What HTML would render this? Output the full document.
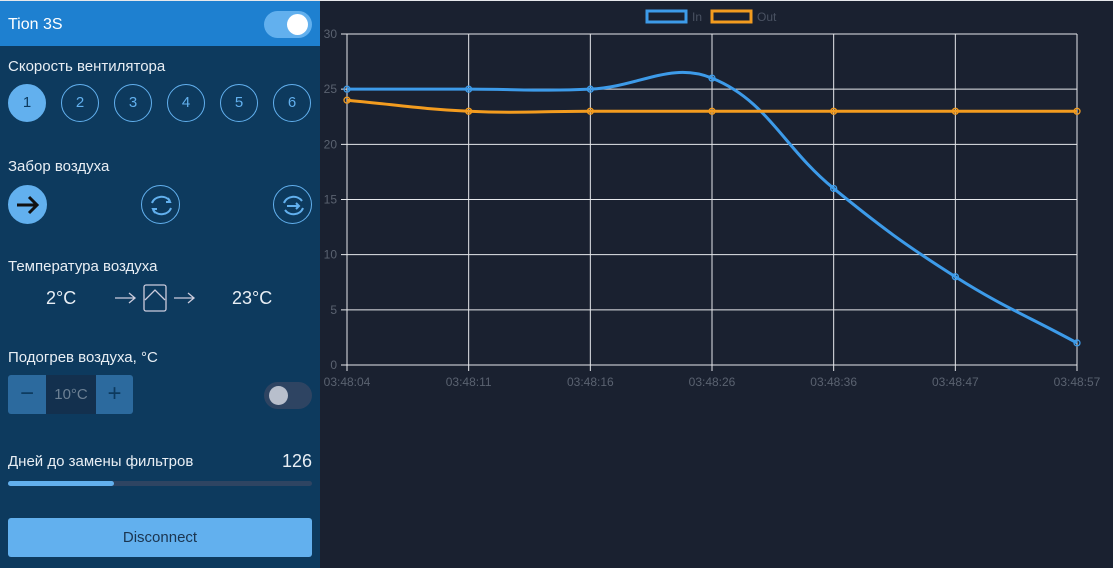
<!DOCTYPE html>
<html><head><meta charset="utf-8"><style>
*{box-sizing:border-box;margin:0;padding:0}
body{width:1113px;height:568px;overflow:hidden;background:#1a2130;font-family:"Liberation Sans","DejaVu Sans",sans-serif;position:relative}
#topline{position:absolute;left:0;top:0;width:1113px;height:1px;background:#e6e8eb}
#panel{position:absolute;left:0;top:1px;width:320px;height:567px;background:#0d3a5e;color:#e8eef4}
.hdr{height:45px;background:#1e80d0;position:relative}
.hdr span{position:absolute;left:8px;top:15px;font-size:16px;color:#fff}
.tog{position:absolute;border-radius:14px}
.lbl{position:absolute;left:8px;font-size:15px;color:#e8eef4}
.sp{position:absolute;top:83px;width:38px;height:38px;border:1px solid #62b0ee;border-radius:50%;color:#62b0ee;font-size:15px;text-align:center;line-height:36px}
.mode{position:absolute;top:184px;width:39px;height:39px;border:1px solid #62b0ee;border-radius:50%}
svg text{font-family:"Liberation Sans",sans-serif}
</style></head><body>
<div id="topline"></div>
<div id="panel">
 <div class="hdr"><span>Tion 3S</span>
  <div class="tog" style="left:264px;top:10px;width:48px;height:27px;background:#62b0ee"><div style="position:absolute;right:4px;top:3px;width:21px;height:21px;border-radius:50%;background:#fff"></div></div>
 </div>
 <div class="lbl" style="top:57px">Скорость вентилятора</div>
 <div class="sp" style="left:8px;background:#62b0ee;color:#0d3a5e">1</div>
 <div class="sp" style="left:61px">2</div>
 <div class="sp" style="left:114px">3</div>
 <div class="sp" style="left:167px">4</div>
 <div class="sp" style="left:220px">5</div>
 <div class="sp" style="left:273px">6</div>
 <div class="lbl" style="top:157px">Забор воздуха</div>
 <div class="mode" style="left:8px;background:#62b0ee;border-color:#62b0ee"><svg width="39" height="39"><path d="M8 19h20M20 11l8 8-8 8" stroke="#111" stroke-width="3" fill="none"/></svg></div>
 <div class="mode" style="left:141px"><svg width="39" height="39"><path d="M10 17a10 9 0 0 1 18-2M29 22a10 9 0 0 1-18 2" stroke="#62b0ee" stroke-width="2" fill="none"/><path d="M26 12l2 4-4 0M13 27l-2-4 4 0" stroke="#62b0ee" stroke-width="2" fill="none"/></svg></div>
 <div class="mode" style="left:273px"><svg width="39" height="39"><path d="M10 17a10 9 0 0 1 18-2M29 22a10 9 0 0 1-18 2M13 20h12M22 17l3 3-3 3" stroke="#62b0ee" stroke-width="2" fill="none"/></svg></div>
 <div class="lbl" style="top:257px">Температура воздуха</div>
 <div style="position:absolute;left:46px;top:287px;font-size:18px">2°C</div>
 <svg style="position:absolute;left:112px;top:281px" width="90" height="30"><path d="M3 16h20M17 11l6 5-6 5M62 16h20M76 11l6 5-6 5" stroke="#ccd" stroke-width="1.3" fill="none"/><rect x="32" y="3" width="22" height="26" rx="2" stroke="#ccd" fill="none" stroke-width="1.3"/><path d="M33 18l10-10 10 10" stroke="#ccd" fill="none" stroke-width="1.3"/></svg>
 <div style="position:absolute;left:232px;top:287px;font-size:18px">23°C</div>
 <div class="lbl" style="top:348px">Подогрев воздуха, °C</div>
 <div style="position:absolute;left:8px;top:374px;width:125px;height:39px;background:#2c6a9e;border-radius:3px">
  <div style="position:absolute;left:0;top:0;width:38px;height:39px;text-align:center;font-size:24px;line-height:37px;color:#0d3a5e">−</div>
  <div style="position:absolute;left:38px;top:0;width:50px;height:39px;background:#13304e;color:#6c8094;text-align:center;line-height:39px;font-size:15px">10°C</div>
  <div style="position:absolute;left:88px;top:0;width:37px;height:39px;text-align:center;font-size:24px;line-height:37px;color:#0d3a5e">+</div>
 </div>
 <div class="tog" style="left:264px;top:381px;width:48px;height:27px;background:#2e4462"><div style="position:absolute;left:5px;top:4px;width:19px;height:19px;border-radius:50%;background:#b8bfcc"></div></div>
 <div class="lbl" style="top:452px">Дней до замены фильтров</div>
 <div style="position:absolute;right:8px;top:450px;font-size:18px">126</div>
 <div style="position:absolute;left:8px;top:480px;width:304px;height:5px;background:#2e4462;border-radius:3px"><div style="width:106px;height:5px;background:#62b0ee;border-radius:3px"></div></div>
 <div style="position:absolute;left:8px;top:517px;width:304px;height:39px;background:#62b0ee;border-radius:3px;text-align:center;line-height:39px;font-size:15px;color:#1b3550">Disconnect</div>
</div>
<svg id="chart" style="position:absolute;left:0;top:0" width="1113" height="568"></svg>
<script>
const labels=["03:48:04","03:48:11","03:48:16","03:48:26","03:48:36","03:48:47","03:48:57"];
const inVals=[25,25,25,26,16,8,2];
const outVals=[24,23,23,23,23,23,23];
const yTicks=[0,5,10,15,20,25,30];
const X0=347,X1=1077,Y0=365,Y1=34,YMAX=30;
const xs=i=>X0+(X1-X0)*i/(labels.length-1);
const ys=v=>Y0-(Y0-Y1)*v/YMAX;
const svg=document.getElementById('chart');const NS='http://www.w3.org/2000/svg';
function mk(t,a,p){const e=document.createElementNS(NS,t);for(const k in a)e.setAttribute(k,a[k]);(p||svg).appendChild(e);return e;}
yTicks.forEach(v=>{const l=mk('line',{x1:X0-6,x2:X1,y1:ys(v),y2:ys(v),stroke:'#e6e8eb','stroke-width':1});


const t=mk('text',{x:X0-10,y:ys(v)+4,'text-anchor':'end','font-size':12,fill:'#5a6270'});t.textContent=v;

});
labels.forEach((s,i)=>{const l=mk('line',{x1:xs(i),x2:xs(i),y1:Y1,y2:Y0+6,stroke:'#e6e8eb','stroke-width':1});


const t=mk('text',{x:xs(i),y:386,'text-anchor':'middle','font-size':12,fill:'#5a6270'});t.textContent=s;

});
function path(vals){const p=vals.map((v,i)=>({x:xs(i),y:ys(v)}));const T=0.4;const cps=p.map((c,i)=>{const a=p[Math.max(i-1,0)],b=p[Math.min(i+1,p.length-1)];const d01=Math.hypot(c.x-a.x,c.y-a.y),d12=Math.hypot(b.x-c.x,b.y-c.y);let s01=d01/(d01+d12)||0,s12=d12/(d01+d12)||0;const fa=T*s01,fb=T*s12;return{p:{x:c.x-fa*(b.x-a.x),y:c.y-fa*(b.y-a.y)},n:{x:c.x+fb*(b.x-a.x),y:c.y+fb*(b.y-a.y)}};});
let d='M'+p[0].x+' '+p[0].y;for(let i=1;i<p.length;i++){d+=` C${cps[i-1].n.x} ${cps[i-1].n.y} ${cps[i].p.x} ${cps[i].p.y} ${p[i].x} ${p[i].y}`;}return d;}
[[inVals,'#3d9be9','in'],[outVals,'#f39c1f','out']].forEach(([vals,c,n])=>{const pl=mk('path',{d:path(vals),stroke:c,'stroke-width':3,fill:'none'});


vals.forEach((v,i)=>{const pt=mk('circle',{cx:xs(i),cy:ys(v),r:3,fill:'none',stroke:c,'stroke-width':1.3});

});});
[['In','#3d9be9',647],['Out','#f39c1f',712]].forEach(([s,c,x])=>{const r=mk('rect',{x:x,y:11,width:39,height:11,fill:'none',stroke:c,'stroke-width':3});


const t=mk('text',{x:x+45,y:21,'font-size':12,fill:'#4a5262'});t.textContent=s;

});
</script>
</body></html>
